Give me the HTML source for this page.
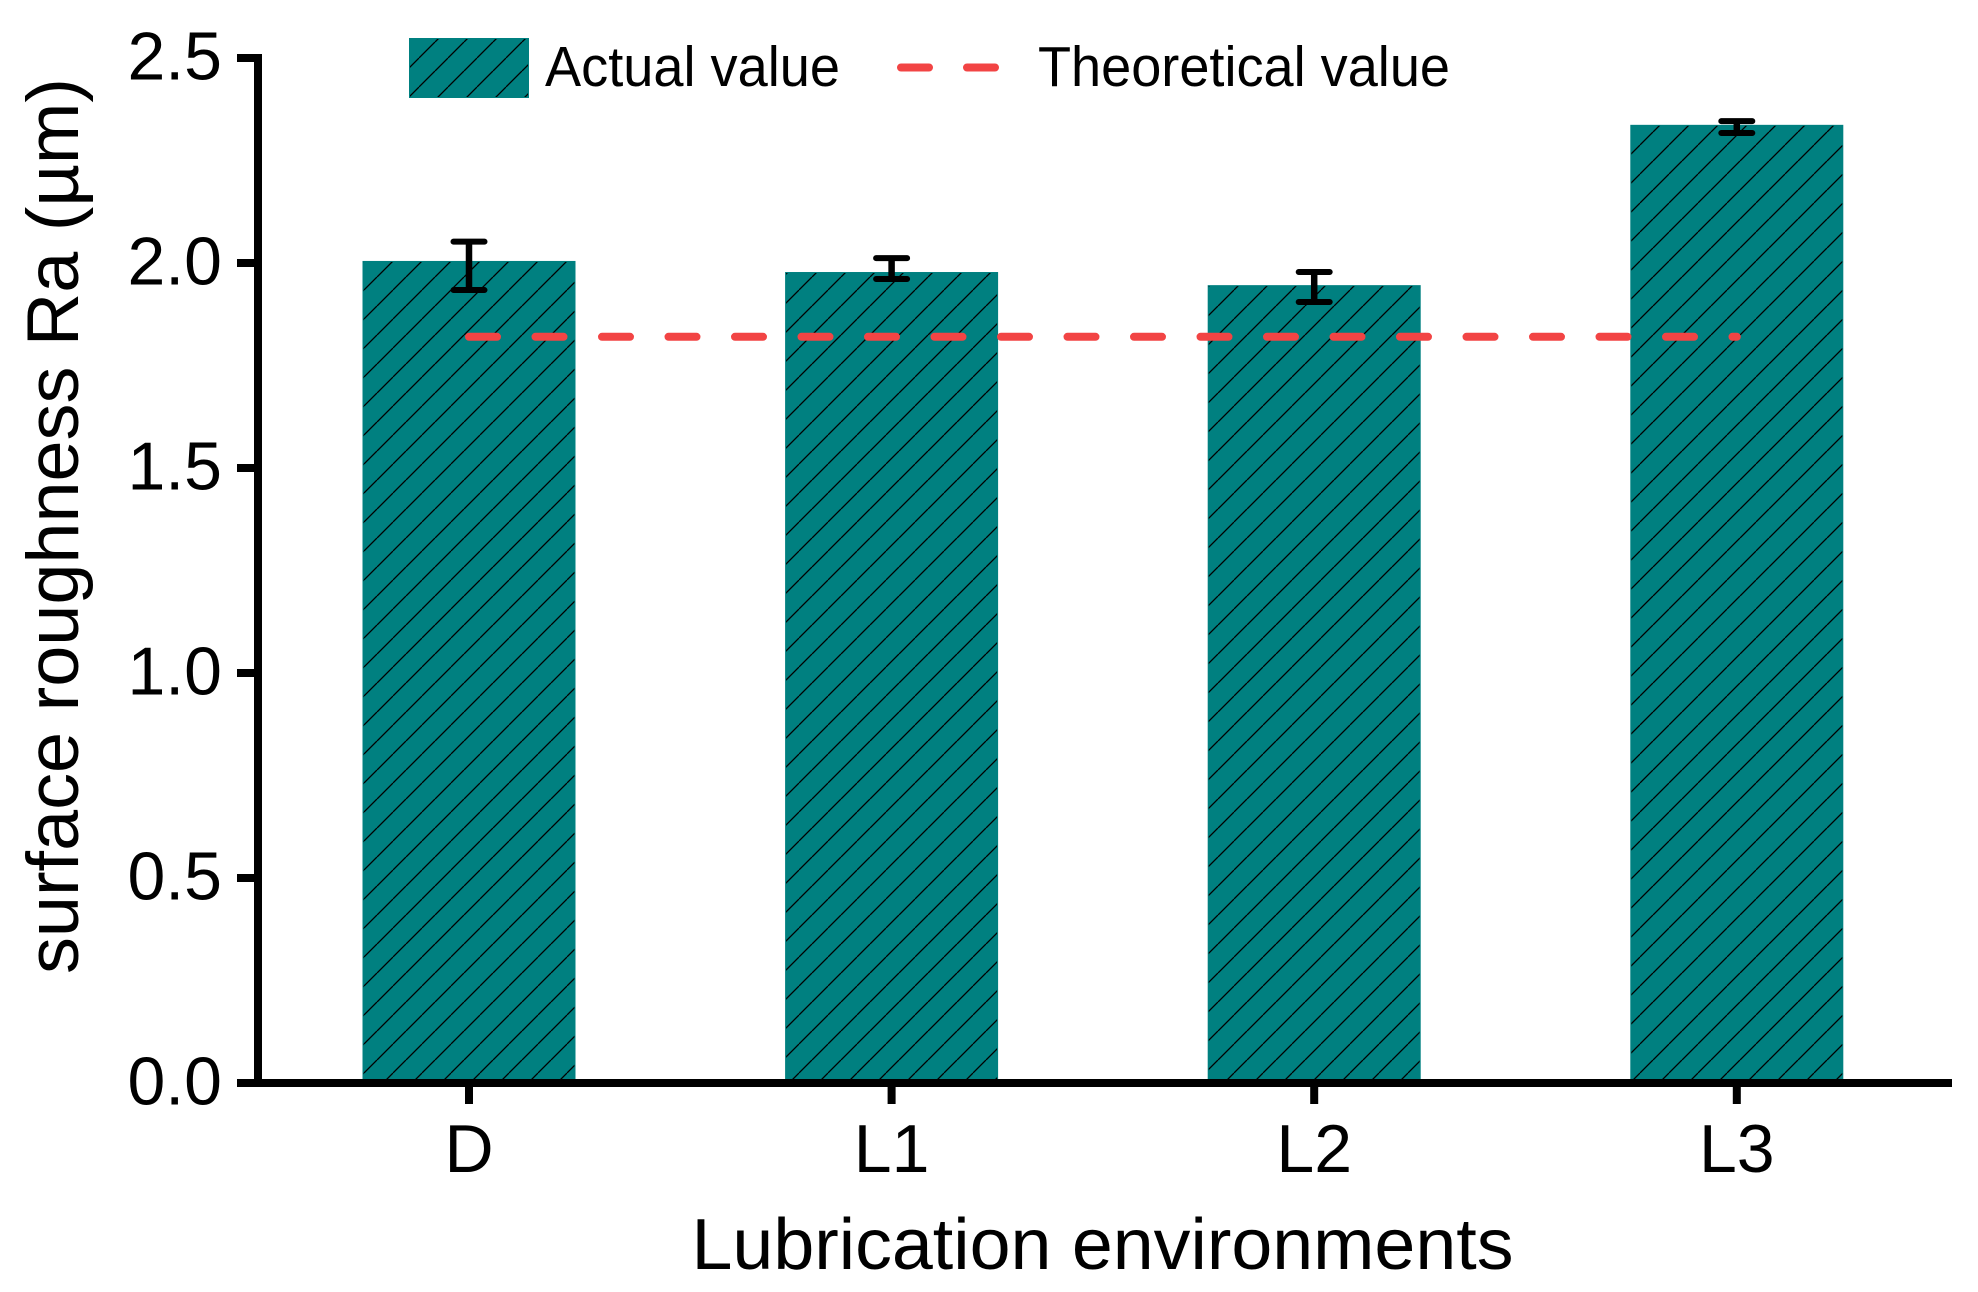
<!DOCTYPE html>
<html lang="en">
<head>
<meta charset="utf-8">
<title>Surface roughness by lubrication environment</title>
<style>
html,body{margin:0;padding:0;background:#fff;width:1978px;height:1292px;overflow:hidden}
svg{display:block}
text{font-family:"Liberation Sans",Arial,sans-serif;fill:#000}
</style>
</head>
<body>
<svg id="chart" width="1978" height="1292" viewBox="0 0 1978 1292" xmlns="http://www.w3.org/2000/svg">
<defs>
<pattern id="hatch" patternUnits="userSpaceOnUse" width="29" height="29">
<path d="M16 0L0 16M29 16L16 29" stroke="#000" stroke-width="1.25" fill="none"/>
</pattern>
<pattern id="hatch-legend" patternUnits="userSpaceOnUse" width="29" height="29">
<path d="M13 0L0 13M29 13L13 29" stroke="#000" stroke-width="1.25" fill="none"/>
</pattern>
</defs>
<g id="bars"></g>
<g id="errors"></g>
<g id="theory"></g>
<g id="axes"></g>
<text x="78" y="526" font-size="73" text-anchor="middle" textLength="896" lengthAdjust="spacingAndGlyphs" transform="rotate(-90 78 526)">surface roughness Ra (µm)</text>
<text x="1102.5" y="1269" font-size="72" text-anchor="middle" textLength="822" lengthAdjust="spacingAndGlyphs">Lubrication environments</text>
<g>
<rect x="409" y="38" width="120" height="60" fill="#008080"/>
<rect x="410" y="39" width="118" height="58" fill="url(#hatch-legend)"/>
<text x="545" y="86" font-size="57" textLength="295" lengthAdjust="spacingAndGlyphs">Actual value</text>
<line x1="901" y1="67.5" x2="995" y2="67.5" stroke="#f24444" stroke-width="8" stroke-linecap="round" stroke-dasharray="28 38"/>
<text x="1038" y="86" font-size="57" textLength="412" lengthAdjust="spacingAndGlyphs">Theoretical value</text>
</g>
</svg>
<script>
const categories = ['D', 'L1', 'L2', 'L3'];
const actualValues = [2.005, 1.978, 1.946, 2.337];
const errorUpper = [2.052, 2.012, 1.978, 2.346];
const errorLower = [1.934, 1.961, 1.905, 2.317];
const theoreticalValues = [1.82, 1.82, 1.82, 1.82];
const yTickValues = [0, 0.5, 1, 1.5, 2, 2.5];
const yTickLabels = ['0.0', '0.5', '1.0', '1.5', '2.0', '2.5'];

const NS = 'http://www.w3.org/2000/svg';
const xScale = function (i) { return 469 + i * 422.6; };
const yScale = function (v) { return 1083 - v * 410; };
const BAR_WIDTH = 213;

function make(parent, tag, attrs, text) {
  const el = document.createElementNS(NS, tag);
  for (const k in attrs) el.setAttribute(k, attrs[k]);
  if (text !== undefined) el.textContent = text;
  parent.appendChild(el);
  return el;
}

const barsG = document.getElementById('bars');
const errorsG = document.getElementById('errors');
const theoryG = document.getElementById('theory');
const axesG = document.getElementById('axes');

categories.forEach(function (cat, i) {
  const cx = xScale(i);
  const top = yScale(actualValues[i]);
  const h = yScale(0) - top;
  const bar = make(barsG, 'rect', { x: cx - BAR_WIDTH / 2, y: top, width: BAR_WIDTH, height: h, fill: '#008080' });
  
  
  const hatch = make(barsG, 'rect', { x: cx - BAR_WIDTH / 2 + 1, y: top + 1, width: BAR_WIDTH - 2, height: h - 1, fill: 'url(#hatch)' });
  
  

  const up = yScale(errorUpper[i]);
  const lo = yScale(errorLower[i]);
  const eb = make(errorsG, 'path', {
    d: 'M' + cx + ' ' + up + 'V' + lo,
    stroke: '#000', 'stroke-width': 6.5, fill: 'none'
  });
  
  
  const caps = make(errorsG, 'path', {
    d: 'M' + (cx - 15.5) + ' ' + up + 'H' + (cx + 15.5) + 'M' + (cx - 15.5) + ' ' + lo + 'H' + (cx + 15.5),
    stroke: '#000', 'stroke-width': 6, 'stroke-linecap': 'round', fill: 'none'
  });
  
  

  const tick = make(axesG, 'rect', { x: cx - 4, y: 1083, width: 8, height: 21, fill: '#000' });
  
  
  const label = make(axesG, 'text', { x: cx, y: 1172, 'font-size': 68, 'text-anchor': 'middle' }, cat);
  
  
});

const theoryPts = theoreticalValues.map(function (v, i) { return xScale(i) + ',' + yScale(v); }).join(' ');
const theoryLine = make(theoryG, 'polyline', {
  points: theoryPts, fill: 'none', stroke: '#f24444', 'stroke-width': 8,
  'stroke-linecap': 'round', 'stroke-dasharray': '28 38.5'
});



const yAxisLine = make(axesG, 'rect', { x: 254, y: yScale(2.5) - 4, width: 8, height: yScale(0) - yScale(2.5) + 8, fill: '#000' });


const xAxisLine = make(axesG, 'rect', { x: 237, y: yScale(0) - 4, width: 1715, height: 8, fill: '#000' });



yTickValues.forEach(function (v, i) {
  const y = yScale(v);
  const tick = make(axesG, 'rect', { x: 237, y: y - 4, width: 17, height: 8, fill: '#000' });
  
  
  const label = make(axesG, 'text', { x: 222, y: y + 21.5, 'font-size': 68, 'text-anchor': 'end' }, yTickLabels[i]);
  
  
});
</script>
</body>
</html>
